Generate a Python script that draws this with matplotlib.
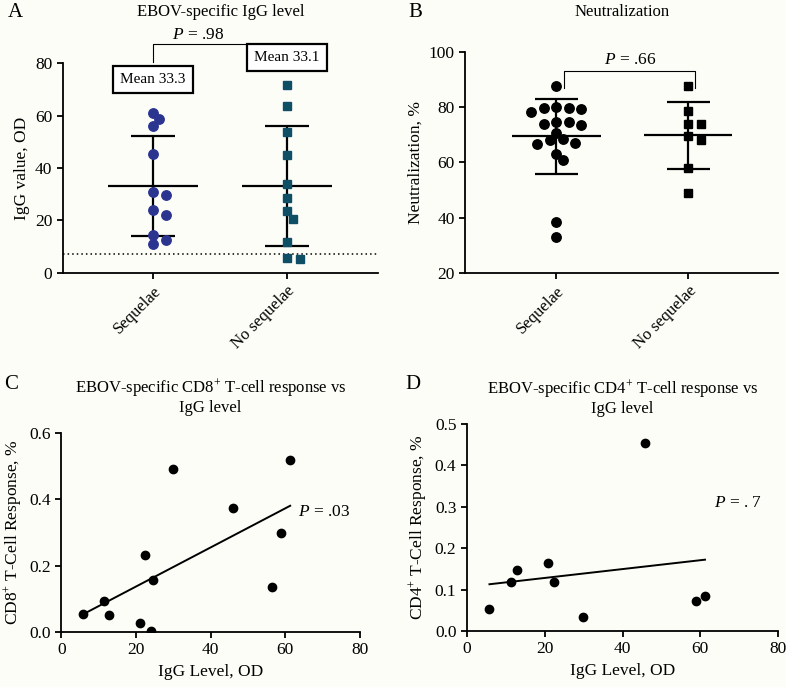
import matplotlib
matplotlib.use("Agg")
import matplotlib.pyplot as plt
import numpy as np

plt.rcParams['font.family'] = ['Liberation Serif', 'DejaVu Serif']
plt.rcParams['mathtext.fontset'] = 'custom'
plt.rcParams['mathtext.rm'] = 'Liberation Serif'
plt.rcParams['mathtext.it'] = 'Liberation Serif:italic'
plt.rcParams['axes.linewidth'] = 1.3
plt.rcParams['xtick.major.width'] = 1.3
plt.rcParams['ytick.major.width'] = 1.3
plt.rcParams['xtick.major.size'] = 4
plt.rcParams['ytick.major.size'] = 4

# Data
groups = ['Sequelae', 'No sequelae']

#A - IgG values
igg_seq = [61.0, 58.7, 56.1, 45.5, 30.7, 29.5, 24.1, 22.0, 14.5, 12.4, 10.8]
igg_noseq = [71.5, 63.5, 53.7, 45.1, 33.9, 28.6, 23.4, 20.4, 11.7, 5.8, 5.3]
igg_cutoff = 7.0
igg_p = '$P$ = .98'

#B - neutralization
neut_seq = [87.8, 80.3, 79.9, 79.7, 79.5, 78.3, 74.8, 74.8, 74.1, 73.6,
            70.7, 68.4, 68.0, 67.1, 66.6, 63.2, 61.0, 38.3, 33.1]
neut_noseq = [87.9, 78.6, 74.1, 74.1, 69.5, 68.0, 58.1, 48.8]
neut_p = '$P$ = .66'

#C - CD8 vs IgG
cd8_igg = [5.8, 11.4, 12.8, 21.0, 22.5, 23.9, 24.5, 29.8, 45.9, 56.5, 58.9, 61.3]
cd8_resp = [0.053, 0.093, 0.052, 0.027, 0.232, 0.003, 0.156, 0.491, 0.375, 0.136, 0.299, 0.518]
cd8_p = '$P$ = .03'

#D - CD4 vs IgG
cd4_igg = [5.8, 11.3, 12.9, 20.8, 22.5, 29.8, 45.9, 58.8, 61.2]
cd4_resp = [0.052, 0.119, 0.148, 0.165, 0.119, 0.033, 0.455, 0.072, 0.085]
cd4_p = '$P$ = . 7'

BLUE = '#2b3590'
TEAL = '#0f4f66'
BG = '#fdfdf8'

fig = plt.figure(figsize=(7.86, 6.87), dpi=100, facecolor=BG)

axA = fig.add_axes([0.080, 0.603, 0.401, 0.305], facecolor=BG)
axB = fig.add_axes([0.592, 0.603, 0.398, 0.321], facecolor=BG)
axC = fig.add_axes([0.078, 0.080, 0.380, 0.290], facecolor=BG)
axD = fig.add_axes([0.594, 0.0815, 0.396, 0.3015], facecolor=BG)

for ax in (axA, axB, axC, axD):
    ax.spines['top'].set_visible(False)
    ax.spines['right'].set_visible(False)
    ax.tick_params(labelsize=12.5, direction='out')


def swarm(ax, vals, diam=8.6, step=6.3):
    # simple greedy beeswarm, returns x offsets in data units
    o = ax.transData.transform((0, 0))
    xpx = ax.transData.transform((1, 0))[0] - o[0]
    ypx = ax.transData.transform((0, 1))[1] - o[1]
    order = np.argsort(vals)[::-1]
    placed = []
    offs = np.zeros(len(vals))
    for i in order:
        y = vals[i] * ypx
        cands = [0]
        for n in range(1, 20):
            cands += [n, -n]
        for k in cands:
            x = k * step
            if all((x - px) ** 2 + (y - py) ** 2 >= diam ** 2 for px, py in placed):
                break
        placed.append((k * step, y))
        offs[i] = k * step / xpx
    return offs


def dotplot(ax, pos, vals, marker, color, ms):
    vals = np.array(vals)
    offs = swarm(ax, vals)
    ax.plot(pos + offs, vals, marker, color=color, ms=ms, ls='none', zorder=3)
    m = vals.mean()
    sd = vals.std(ddof=1)
    ax.hlines(m, pos - 0.336, pos + 0.336, color='black', lw=1.6, zorder=2)
    ax.vlines(pos, m - sd, m + sd, color='black', lw=1.6, zorder=2)
    ax.hlines([m - sd, m + sd], pos - 0.164, pos + 0.164, color='black', lw=1.6, zorder=2)
    return m


#Panel A
axA.set_xlim(-0.672, 1.679)
axA.set_ylim(0, 80)
axA.set_yticks([0, 20, 40, 60, 80])
axA.set_xticks([0, 1])
axA.set_xticklabels(groups, rotation=45, ha='right', rotation_mode='anchor', fontsize=12)
axA.set_ylabel('IgG value, OD', fontsize=12.5)
axA.axhline(igg_cutoff, color='black', ls=(0, (1, 2)), lw=1.1, zorder=1)
dotplot(axA, 0, igg_seq, 'o', BLUE, 6.8)
dotplot(axA, 1, igg_noseq, 's', TEAL, 6.3)
box = dict(boxstyle='square,pad=0.45', fc='white', ec='black', lw=1.6)
axA.text(0, 73.8, 'Mean 33.3', ha='center', va='center', fontsize=11, bbox=box, clip_on=False)
axA.text(1, 82.3, 'Mean 33.1', ha='center', va='center', fontsize=11, bbox=box, clip_on=False)
axA.plot([0, 0, 0.70], [80.5, 87.2, 87.2], color='black', lw=0.8, clip_on=False)
axA.text(0.34, 90.6, igg_p, ha='center', va='center', fontsize=12.5)
axA.text(0.5, 1.243, 'EBOV-specific IgG level', transform=axA.transAxes,
         ha='center', va='center', fontsize=12)

#Panel B
axB.set_xlim(-0.689, 1.682)
axB.set_ylim(20, 100)
axB.set_yticks([20, 40, 60, 80, 100])
axB.set_xticks([0, 1])
axB.set_xticklabels(groups, rotation=45, ha='right', rotation_mode='anchor', fontsize=12)
axB.set_ylabel('Neutralization, %', fontsize=12.5)
dotplot(axB, 0, neut_seq, 'o', 'black', 6.8)
dotplot(axB, 1, neut_noseq, 's', 'black', 6.3)
axB.plot([0.058, 0.058, 1.05, 1.05], [86.9, 93.3, 93.3, 86.9], color='black', lw=0.8)
axB.text(0.56, 97.2, neut_p, ha='center', va='center', fontsize=12.5)
axB.text(0.5, 1 + (52 - 12) / 221, 'Neutralization', transform=axB.transAxes,
         ha='center', va='center', fontsize=12)


def corrplot(ax, x, y, ymax, ystep, p, px, py, title, ylabel, pad):
    x = np.array(x)
    y = np.array(y)
    ax.plot(x, y, 'o', color='black', ms=6, zorder=3)
    k, b = np.polyfit(x, y, 1)
    xs = np.array([x.min(), x.max()])
    ax.plot(xs, k * xs + b, color='black', lw=1.4)
    ax.set_xlim(0, 80)
    ax.set_ylim(0, ymax)
    ax.set_xticks([0, 20, 40, 60, 80])
    ax.set_yticks(np.arange(0, ymax + ystep / 2, ystep))
    ax.yaxis.set_major_formatter(matplotlib.ticker.FormatStrFormatter('%.1f'))
    ax.set_xlabel('IgG Level, OD', fontsize=12.5)
    ax.set_ylabel(ylabel, fontsize=12.5)
    ax.text(px, py, p, ha='left', va='center', fontsize=12.5)
    ax.set_title(title, fontsize=12, linespacing=1.1, pad=pad)


#Panel C
corrplot(axC, cd8_igg, cd8_resp, 0.6, 0.2, cd8_p, 63.3, 0.363,
         'EBOV-specific CD8$^{+}$ T-cell response vs\nIgG level',
         'CD8$^{+}$ T-Cell Response, %', 15)

#Panel D
corrplot(axD, cd4_igg, cd4_resp, 0.5, 0.1, cd4_p, 63.5, 0.309,
         'EBOV-specific CD4$^{+}$ T-cell response vs\nIgG level',
         'CD4$^{+}$ T-Cell Response, %', 8)

#Letters
fig.text(0.010, 0.982, 'A', fontsize=15, va='center')
fig.text(0.520, 0.982, 'B', fontsize=15, va='center')
fig.text(0.005, 0.440, 'C', fontsize=15, va='center')
fig.text(0.516, 0.440, 'D', fontsize=15, va='center')

fig.savefig('out.png', dpi=100, facecolor=BG)
